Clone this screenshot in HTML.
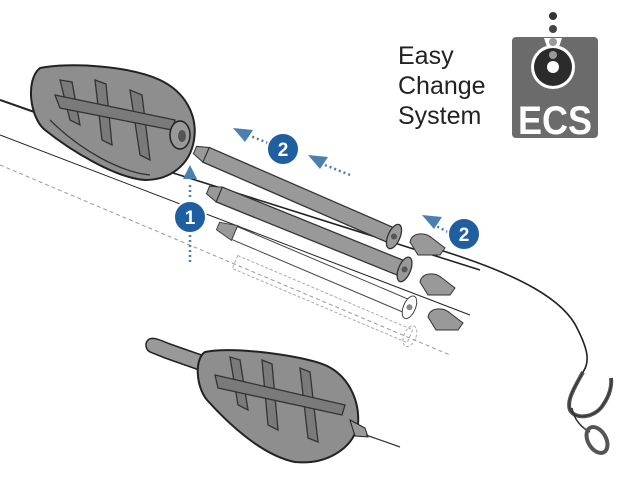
<!DOCTYPE html>
<html><head><meta charset="utf-8"><style>
html,body{margin:0;padding:0;background:#fff;width:618px;height:480px;overflow:hidden}
svg{display:block}
</style></head><body>
<svg width="618" height="480" viewBox="0 0 618 480" xmlns="http://www.w3.org/2000/svg">
<!-- lines -->
<g stroke="#222" fill="none">
<path d="M0 100 L40 114" stroke-width="2"/>
<path d="M170 172 L480 270" stroke-width="1.6"/>
<path d="M0 135 L470 315" stroke-width="1"/>
<path d="M0 165 L450 355" stroke="#999" stroke-width="1" stroke-dasharray="4 3"/>
<path d="M440 250 C520 275 565 300 578 330 C588 350 590 362 583 372" stroke-width="1.6"/>
</g>
<!-- tube 1 -->
<g transform="translate(195,150) rotate(23.5)">
<rect x="12" y="-8" width="205" height="16" fill="#999" stroke="#333" stroke-width="1.3"/>
<path d="M12 -8 L0 -4 L0 4 L12 8Z" fill="#999" stroke="#333"/>
<ellipse cx="217" cy="0" rx="6" ry="13" fill="#999" stroke="#333" stroke-width="1.3"/>
<circle cx="217" cy="0" r="3" fill="#555"/>
</g>
<!-- tube 2 -->
<g transform="translate(208,190) rotate(22)">
<rect x="12" y="-8" width="200" height="16" fill="#999" stroke="#333" stroke-width="1.3"/>
<path d="M12 -8 L0 -4 L0 4 L12 8Z" fill="#999" stroke="#333"/>
<ellipse cx="212" cy="0" rx="6" ry="13" fill="#999" stroke="#333" stroke-width="1.3"/>
<circle cx="212" cy="0" r="3" fill="#555"/>
</g>
<!-- tube 3 white -->
<g transform="translate(218,226) rotate(23)">
<path d="M18 -8 L0 -4 L0 4 L18 8Z" fill="#999" stroke="#444"/>
<rect x="18" y="-7" width="190" height="14" fill="#fff" stroke="#444"/>
<ellipse cx="208" cy="0" rx="6" ry="12" fill="#fff" stroke="#444"/>
<circle cx="208" cy="0" r="3" fill="#888"/>
</g>
<!-- ghost tube -->
<g transform="translate(235,262) rotate(23)" fill="none" stroke="#aaa" stroke-dasharray="3 2">
<rect x="0" y="-7" width="190" height="14"/>
<ellipse cx="190" cy="0" rx="6" ry="11"/>
</g>
<!-- small cones -->
<g fill="#999" stroke="#333">
<path d="M410 242 C412 232 425 232 432 238 L445 248 L440 255 L418 255Z"/>
<path d="M420 282 C422 272 435 272 442 278 L455 288 L450 295 L428 295Z"/>
<path d="M428 317 C430 307 443 307 450 313 L463 323 L458 330 L436 330Z"/>
</g>
<!-- top feeder -->
<path d="M40 68 C70 62 130 66 160 80 C185 92 198 115 194 140 C190 165 170 180 145 180 C115 178 70 150 45 130 C30 118 25 80 40 68Z" fill="#8e8e8e" stroke="#222" stroke-width="2"/>
<g stroke="#333" stroke-width="1.3" fill="#7a7a7a">
<path d="M60 80 L70 120 L80 125 L72 82Z"/>
<path d="M95 80 L102 140 L112 145 L106 84Z"/>
<path d="M130 90 L140 155 L150 160 L142 95Z"/>
<path d="M55 95 L175 120 L172 130 L60 108Z"/>
<path d="M50 120 C80 150 120 172 150 175" fill="none"/>
</g>
<ellipse cx="180" cy="135" rx="10" ry="14" fill="#999" stroke="#222" stroke-width="1.5"/>
<ellipse cx="182" cy="136" rx="4" ry="6" fill="#555"/>
<!-- bottom feeder -->
<path d="M148 340 C152 336 160 340 170 344 L210 358 L205 372 L165 358 L150 352 C145 349 145 343 148 340Z" fill="#999" stroke="#222" stroke-width="1.5"/>
<path d="M205 352 C230 346 300 355 325 365 C348 375 360 400 358 425 C352 450 325 465 295 462 C260 455 225 420 207 400 C195 385 195 358 205 352Z" fill="#8e8e8e" stroke="#222" stroke-width="2"/>
<g stroke="#333" stroke-width="1.3" fill="#7a7a7a">
<path d="M230 357 L238 405 L248 410 L240 360Z"/>
<path d="M262 360 L268 425 L278 430 L272 364Z"/>
<path d="M300 368 L308 438 L318 442 L310 372Z"/>
<path d="M215 375 L345 405 L342 415 L218 388Z"/>
</g>
<path d="M350 420 L365 428 L368 437 L355 436Z" fill="#999" stroke="#222"/>
<line x1="366" y1="435" x2="400" y2="447" stroke="#333" stroke-width="1.2"/>
<!-- hook -->
<g fill="none" stroke="#333">
<path d="M583 372 C576 385 566 400 570 410 C575 420 595 418 603 405 C610 395 612 385 611 378" stroke-width="4" stroke="#555"/>
<path d="M583 372 C576 385 566 400 570 410 C575 420 595 418 603 405 C610 395 612 385 611 378" stroke-width="1.2"/>
<path d="M572 408 C574 420 582 428 590 432" stroke-width="1.5"/>
<ellipse cx="597" cy="440" rx="9" ry="14" transform="rotate(-30 597 440)" stroke="#555" stroke-width="4"/>
</g>
<!-- blue arrows -->
<g stroke="#4a7fb0" stroke-width="2.5" stroke-dasharray="2 3" fill="none">
<line x1="190" y1="262" x2="190" y2="182"/>
<line x1="268" y1="143" x2="248" y2="135"/>
<line x1="350" y1="175" x2="325" y2="165"/>
<line x1="448" y1="232" x2="432" y2="224"/>
</g>
<g fill="#4a7fb0">
<path d="M190 165 l-7 14 h14z"/>
<path d="M233 128 l20 2 l-8 12z"/>
<path d="M308 155 l20 2 l-8 12z"/>
<path d="M422 215 l20 2 l-8 12z"/>
</g>
<g font-family="Liberation Sans, sans-serif" font-weight="bold" font-size="19" fill="#fff" text-anchor="middle">
<circle cx="190" cy="217" r="16" fill="#1f5fa0" stroke="#fff" stroke-width="2"/><text x="190" y="224">1</text>
<circle cx="283" cy="149" r="16" fill="#1f5fa0" stroke="#fff" stroke-width="2"/><text x="283" y="156">2</text>
<circle cx="464" cy="234" r="16" fill="#1f5fa0" stroke="#fff" stroke-width="2"/><text x="464" y="241">2</text>
</g>
<!-- text -->
<g font-family="Liberation Sans, sans-serif" font-size="25" fill="#222">
<text x="398" y="64">Easy</text>
<text x="398" y="94">Change</text>
<text x="398" y="124">System</text>
</g>
<!-- logo -->
<rect x="512" y="37" width="86" height="101" rx="4" fill="#6b6b6b"/>
<circle cx="553" cy="67" r="22" fill="#fff"/>
<path d="M544 38 h18 l-4 12 h-10z" fill="#fff"/>
<circle cx="553" cy="67" r="19" fill="#2b2b2b"/>
<circle cx="553" cy="55" r="4" fill="#999"/>
<circle cx="553" cy="67" r="6" fill="#fff"/>
<circle cx="553" cy="16" r="4" fill="#333"/>
<circle cx="553" cy="29" r="4" fill="#444"/>
<circle cx="553" cy="42" r="4" fill="#999"/>
<text x="555" y="134" font-family="Liberation Sans, sans-serif" font-weight="bold" font-size="40" fill="#fff" text-anchor="middle" textLength="74" lengthAdjust="spacingAndGlyphs">ECS</text>
</svg>
</body></html>
